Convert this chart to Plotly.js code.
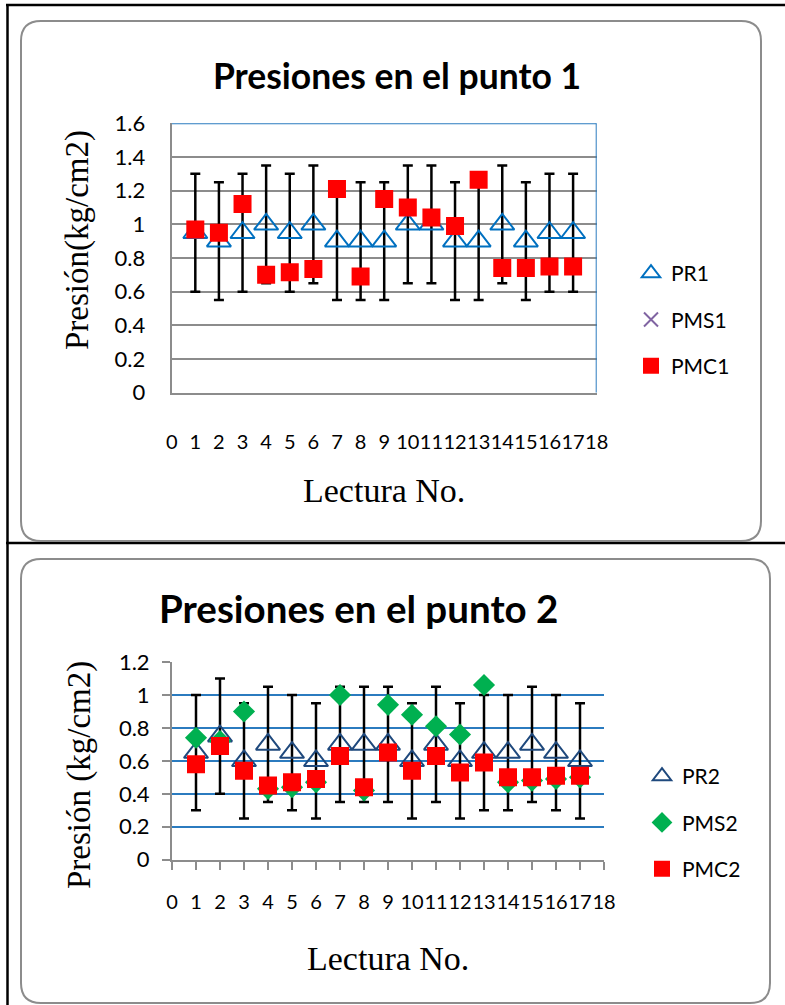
<!DOCTYPE html>
<html>
<head>
<meta charset="utf-8">
<script src="https://cdn.plot.ly/plotly-3.0.1.min.js"></script>
<style>
html,body{margin:0;padding:0;background:#fff;}
#chart{width:785px;height:1005px;}
</style>
</head>
<body>
<div id="chart"></div>
<script>
// ---- Data ----
const lecturas = [1,2,3,4,5,6,7,8,9,10,11,12,13,14,15,16,17];
const xTickVals = [0,1,2,3,4,5,6,7,8,9,10,11,12,13,14,15,16,17,18];

// Punto 1
const pr1    = [0.95,0.90,0.95,1.00,0.95,1.00,0.90,0.90,0.90,1.00,1.00,0.90,0.90,1.00,0.90,0.95,0.95];
const errPr1 = [0.35,0.35,0.35,0.35,0.35,0.35,0.35,0.35,0.35,0.35,0.35,0.35,0.35,0.35,0.35,0.35,0.35];
const pms1   = [null,null,null,null,null,null,null,null,null,null,null,null,null,null,null,null,null];
const pmc1   = [0.97,0.95,1.12,0.70,0.715,0.735,1.21,0.69,1.15,1.10,1.04,0.99,1.265,0.74,0.74,0.75,0.75];

// Punto 2
const pr2    = [0.65,0.75,0.60,0.70,0.65,0.60,0.70,0.70,0.70,0.60,0.70,0.60,0.65,0.65,0.70,0.65,0.60];
const errPr2 = [0.35,0.35,0.35,0.35,0.35,0.35,0.35,0.35,0.35,0.35,0.35,0.35,0.35,0.35,0.35,0.35,0.35];
const pms2   = [0.74,0.72,0.90,0.43,0.44,0.47,1.00,0.42,0.94,0.88,0.81,0.76,1.06,0.47,0.48,0.49,0.50];
const pmc2   = [0.58,0.69,0.54,0.45,0.47,0.49,0.63,0.44,0.65,0.54,0.63,0.53,0.59,0.50,0.50,0.51,0.51];

// ---- Geometry helpers ----
const W = 785, H = 1005;
const px = p => p / W;
const py = p => 1 - p / H;

const GRAY = '#8c8c8c';
const BLUE = '#2b7bbf';
const SANS = 'Lato, "Open Sans", sans-serif';
const SERIF = '"Liberation Serif", "DejaVu Serif", serif';

function roundRect(x0, y0, x1, y1, r) {
  const P = (x, y) => px(x) + ',' + py(y);
  return 'M' + P(x0 + r, y0) +
    ' L' + P(x1 - r, y0) + ' Q' + P(x1, y0) + ' ' + P(x1, y0 + r) +
    ' L' + P(x1, y1 - r) + ' Q' + P(x1, y1) + ' ' + P(x1 - r, y1) +
    ' L' + P(x0 + r, y1) + ' Q' + P(x0, y1) + ' ' + P(x0, y1 - r) +
    ' L' + P(x0, y0 + r) + ' Q' + P(x0, y0) + ' ' + P(x0 + r, y0) + ' Z';
}

const errStyle = {type: 'data', visible: true, color: '#000', thickness: 2.5, width: 5};

const traces = [
  {x: lecturas, y: pr1, name: 'PR1', type: 'scatter', mode: 'markers', xaxis: 'x', yaxis: 'y',
   legend: 'legend', legendgroup: 'a1',
   marker: {symbol: 'triangle-up-open', size: 21, color: '#0070C0', line: {width: 2, color: '#0070C0'}},
   error_y: Object.assign({array: errPr1}, errStyle)},
  {x: lecturas, y: pms1, name: 'PMS1', type: 'scatter', mode: 'markers', xaxis: 'x', yaxis: 'y',
   legend: 'legend', legendgroup: 'b1',
   marker: {symbol: 'x-thin-open', size: 14, color: '#8064A2', line: {width: 2, color: '#8064A2'}}},
  {x: lecturas, y: pmc1, name: 'PMC1', type: 'scatter', mode: 'markers', xaxis: 'x', yaxis: 'y',
   legend: 'legend', legendgroup: 'c1',
   marker: {symbol: 'square', size: 18, color: '#FF0000'}},

  {x: lecturas, y: pr2, name: 'PR2', type: 'scatter', mode: 'markers', xaxis: 'x2', yaxis: 'y2',
   legend: 'legend2', legendgroup: 'a2',
   marker: {symbol: 'triangle-up-open', size: 21, color: '#1F497D', line: {width: 2, color: '#1F497D'}},
   error_y: Object.assign({array: errPr2}, errStyle)},
  {x: lecturas, y: pms2, name: 'PMS2', type: 'scatter', mode: 'markers', xaxis: 'x2', yaxis: 'y2',
   legend: 'legend2', legendgroup: 'b2',
   marker: {symbol: 'diamond', size: 17, color: '#00B050'}},
  {x: lecturas, y: pmc2, name: 'PMC2', type: 'scatter', mode: 'markers', xaxis: 'x2', yaxis: 'y2',
   legend: 'legend2', legendgroup: 'c2',
   marker: {symbol: 'square', size: 18, color: '#FF0000'}}
];

const legendCommon = {
  xanchor: 'left', yanchor: 'top', bgcolor: 'rgba(0,0,0,0)',
  font: {family: SANS, size: 21, color: '#000'},
  traceorder: 'grouped', tracegroupgap: 16, itemsizing: 'trace'
};

const layout = {
  width: W, height: H,
  margin: {l: 0, r: 0, t: 0, b: 0},
  paper_bgcolor: '#fff', plot_bgcolor: 'rgba(0,0,0,0)',
  showlegend: true,
  title: {text: 'Presiones en el punto 1', x: 397 / W, xanchor: 'center', y: 1 - 77 / H, yanchor: 'middle',
          font: {family: SANS, size: 35.5, color: '#000', weight: 'bold'}},
  legend: Object.assign({x: px(631), y: py(253)}, legendCommon),
  legend2: Object.assign({x: px(642), y: py(756)}, legendCommon),
  xaxis: {domain: [px(171.7), px(596.7)], range: [0, 18], tickvals: xTickVals, ticks: '', tickangle: 0,
          showgrid: false, zeroline: false, showline: true, linecolor: GRAY, linewidth: 2,
          tickfont: {family: SANS, size: 20, color: '#000'}, ticklabelstandoff: 30, fixedrange: true, anchor: 'y'},
  yaxis: {domain: [py(392.7), py(123.3)], range: [0, 1.6], dtick: 0.2, tick0: 0, ticks: '',
          showgrid: true, gridcolor: GRAY, gridwidth: 1.5, zeroline: false, showline: true, linecolor: GRAY, linewidth: 2,
          tickfont: {family: SANS, size: 22, color: '#000'}, ticklabelstandoff: 20, fixedrange: true, anchor: 'x'},
  xaxis2: {domain: [px(172), px(604)], range: [0, 18], tickvals: xTickVals, ticks: 'outside', ticklen: 8, tickwidth: 2, tickcolor: GRAY, tickangle: 0,
           showgrid: false, zeroline: false, showline: true, linecolor: GRAY, linewidth: 2,
           tickfont: {family: SANS, size: 20, color: '#000'}, ticklabelstandoff: 15, fixedrange: true, anchor: 'y2'},
  yaxis2: {domain: [py(859.7), py(662)], range: [0, 1.2], dtick: 0.2, tick0: 0, ticks: 'outside', ticklen: 8, tickwidth: 2, tickcolor: GRAY,
           showgrid: true, gridcolor: BLUE, gridwidth: 2, zeroline: false, showline: true, linecolor: GRAY, linewidth: 2,
           tickfont: {family: SANS, size: 22, color: '#000'}, ticklabelstandoff: 8, fixedrange: true, anchor: 'x2'},
  shapes: [
    // outer table lines
    {type: 'line', xref: 'paper', yref: 'paper', x0: px(6), x1: px(785), y0: py(5), y1: py(5), line: {color: '#000', width: 2.5}, layer: 'below'},
    {type: 'line', xref: 'paper', yref: 'paper', x0: px(7.5), x1: px(7.5), y0: py(4), y1: py(1005), line: {color: '#000', width: 2.5}, layer: 'below'},
    {type: 'line', xref: 'paper', yref: 'paper', x0: px(6), x1: px(785), y0: py(543), y1: py(543), line: {color: '#000', width: 2.5}, layer: 'below'},
    // rounded chart areas
    {type: 'path', xref: 'paper', yref: 'paper', path: roundRect(21, 21, 761, 541, 20), line: {color: GRAY, width: 2}, layer: 'below'},
    {type: 'path', xref: 'paper', yref: 'paper', path: roundRect(21, 559, 770, 1003, 20), line: {color: GRAY, width: 2}, layer: 'below'},
    // blue plot-area border (top and right) of chart 1
    {type: 'line', xref: 'x', yref: 'y', x0: 0, x1: 18, y0: 1.6, y1: 1.6, line: {color: BLUE, width: 2}},
    {type: 'line', xref: 'x', yref: 'y', x0: 18, x1: 18, y0: 0, y1: 1.6, line: {color: BLUE, width: 2}}
  ],
  annotations: [
    {text: 'Presiones en el punto 2', xref: 'paper', yref: 'paper', x: px(358), y: py(608), xanchor: 'center', yanchor: 'middle',
     showarrow: false, font: {family: SANS, size: 38.5, color: '#000', weight: 'bold'}},
    {text: 'Presión(kg/cm2)', xref: 'paper', yref: 'paper', x: px(77), y: py(240), xanchor: 'center', yanchor: 'middle',
     textangle: -90, showarrow: false, font: {family: SERIF, size: 33, color: '#000'}},
    {text: 'Lectura No.', xref: 'paper', yref: 'paper', x: px(384), y: py(490), xanchor: 'center', yanchor: 'middle',
     showarrow: false, font: {family: SERIF, size: 34, color: '#000'}},
    {text: 'Presión (kg/cm2)', xref: 'paper', yref: 'paper', x: px(79), y: py(775), xanchor: 'center', yanchor: 'middle',
     textangle: -90, showarrow: false, font: {family: SERIF, size: 33, color: '#000'}},
    {text: 'Lectura No.', xref: 'paper', yref: 'paper', x: px(388), y: py(958), xanchor: 'center', yanchor: 'middle',
     showarrow: false, font: {family: SERIF, size: 34, color: '#000'}}
  ]
};

Plotly.newPlot('chart', traces, layout, {displayModeBar: false, responsive: false});
</script>
</body>
</html>
